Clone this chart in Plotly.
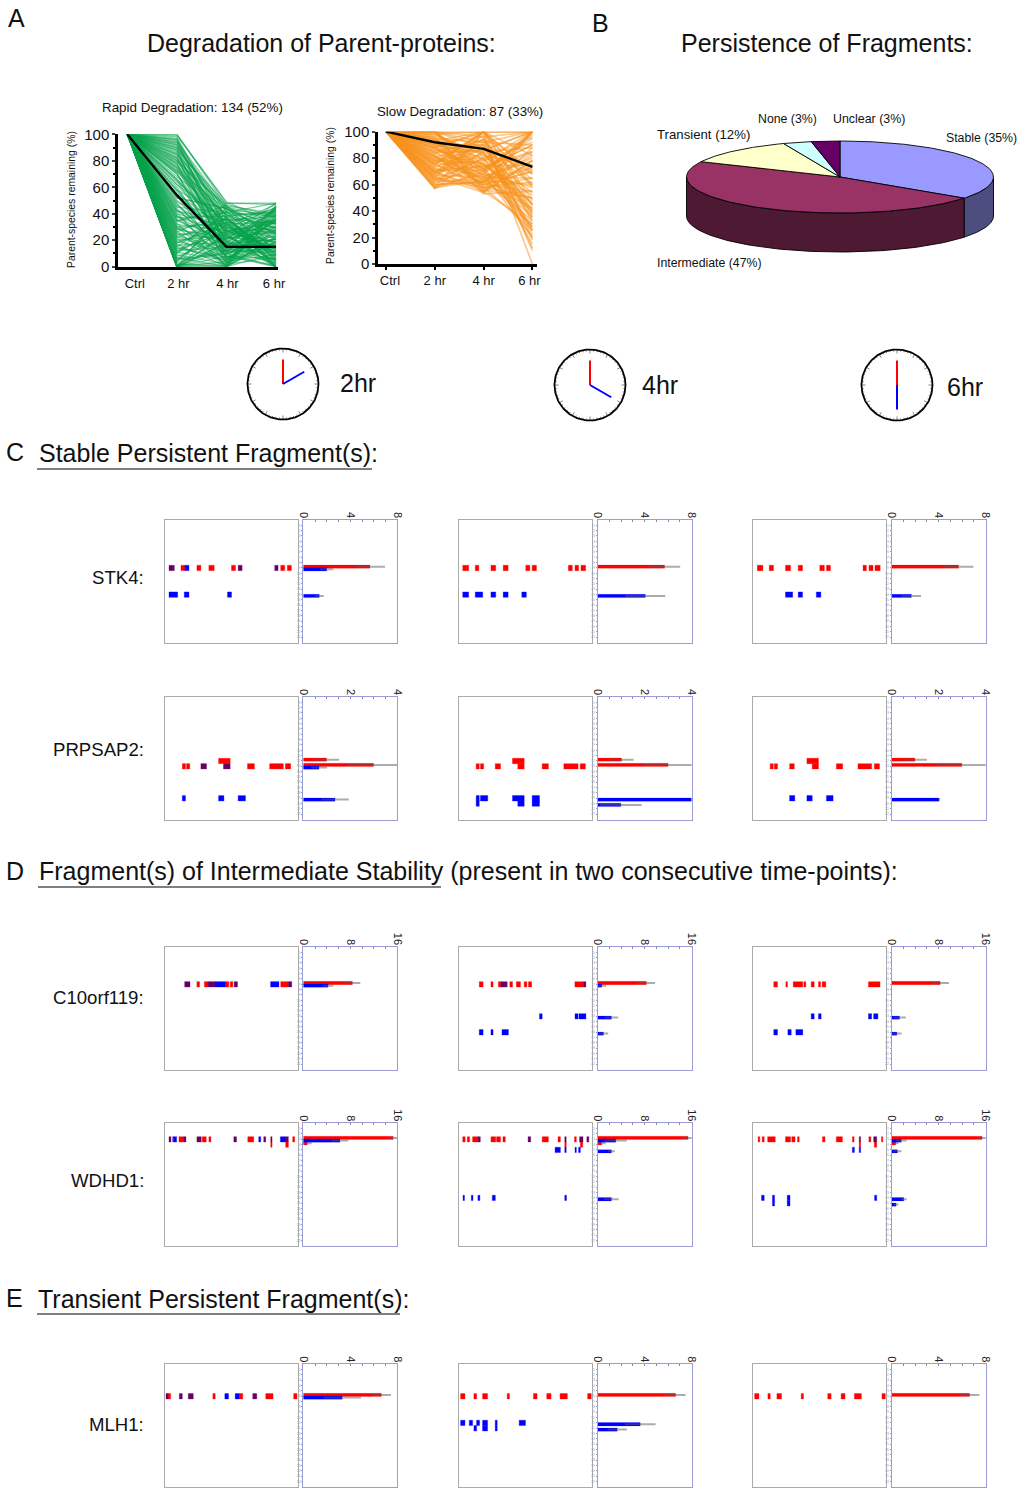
import numpy as np
import plotly.graph_objects as go

W, H = 1024, 1494

# ---------- A: parent-protein time courses ----------
TIMES = [0, 1, 2, 3]
TIME_LABELS = ["Ctrl", "2 hr", "4 hr", "6 hr"]
RAPID_2H = [100,100,98,96,95,94,93,92,91,90,89,88,87,86,85,84,83,82,81,80,79,78,77,76,75,74,73,72,71,70,68,66,65,64,62,60,58,57,55,54,52,50,49,47,46,45,44,43,42,41,40,39,38,37,36,35,34,33,32,31,30,29,28,27,26,25,24,23,22,21,20,19,18,17,16,15,14,13,12,11,10,9,8,7,6,5,4,3,2,1,0,0,0,0,0,0,0,0,0,0,
            99,97,96,94,92,90,88,85,82,80,78,75,72,70,66,62,58,52,48,42,38,35,30,28,25,22,18,15,12,10,6,4,2,0]
RAPID_4H = [48,46,30,12,44,41,25,35,38,22,5,47,33,18,42,27,9,36,15,29,45,20,7,39,24,13,43,31,3,17,40,26,10,34,21,6,37,16,28,2,44,19,32,11,23,41,8,14,35,0,30,4,25,38,12,20,46,1,27,9,33,17,22,0,42,6,29,14,36,3,24,11,31,0,19,40,7,26,15,5,34,2,21,0,28,10,37,13,0,23,18,4,45,8,16,0,32,1,25,12,
            49,28,15,37,24,43,6,31,19,46,11,26,39,3,22,34,14,44,8,29,17,41,1,36,21,12,33,5,27,48,10,38,2,18]
RAPID_6H = [47,40,22,35,15,48,30,8,42,26,12,38,44,20,5,33,28,10,45,18,37,2,25,41,0,16,32,7,46,21,13,36,0,27,43,19,9,31,4,39,24,0,34,14,48,29,6,17,38,23,11,41,0,26,3,35,20,44,15,30,0,8,37,22,12,46,28,5,33,18,0,40,25,10,36,1,21,43,16,31,0,7,27,39,13,24,0,34,19,4,42,9,29,0,17,45,2,23,35,11,
            32,18,44,6,27,39,14,47,23,3,36,11,29,42,19,8,34,25,1,45,16,38,28,9,43,21,5,33,13,48,26,0,37,12]
RAPID_MEAN = [100, 54, 15, 15]
SLOW_2H = [100,100,100,100,98,97,96,95,94,93,92,91,90,89,88,87,86,85,84,83,82,81,80,79,78,77,76,75,74,73,72,71,70,69,68,67,66,65,64,63,62,61,60,59,58,57,57,100,100,95,90,85,80,75,70,65,88,78,68,92,
           100,100,100,99,96,93,90,87,84,81,78,75,72,69,66,63,60,58,100,100,98,94,88,82,76,70,64]
SLOW_4H = [100,88,70,55,100,84,62,92,74,53,96,80,66,58,100,72,90,60,86,76,54,68,94,82,64,100,56,78,70,88,62,74,92,58,84,66,98,60,80,72,64,76,62,68,63,86,70,100,75,60,90,85,65,100,55,95,70,80,100,72,
           100,66,92,78,58,100,84,70,94,60,76,100,68,88,54,80,62,100,96,72,82,56,100,64,90,74,58]
SLOW_6H = [100,60,85,30,100,45,72,90,20,55,100,35,80,65,48,95,25,70,100,40,88,58,10,75,33,100,50,92,28,68,42,85,100,62,38,78,0,55,96,30,73,45,82,20,60,100,35,70,52,100,25,88,65,44,78,40,100,15,58,90,
           100,28,64,100,50,82,36,98,12,70,42,60,100,22,78,46,100,68,32,90,54,100,18,84,38,75,26]
SLOW_MEAN = [100, 92, 87, 73.5]

# ---------- B: fragment persistence ----------
PIE_LABELS = ["Stable (35%)", "Intermediate (47%)", "Transient (12%)", "None (3%)", "Unclear (3%)"]
PIE_SHARES = [35, 47, 12, 3, 3]

# ---------- clocks ----------
CLOCK_HOURS = [2, 4, 6]

# ---------- C-E: peptographs. map rows are (gel slice, start %, end %), bar rows are (gel slice, value, error) ----------
STK4_2_RED = [(9,12,15),(9,24,27),(9,33,37),(9,50,53),(9,87,90),(9,92,95)]
STK4_2_PUR = [(9,3,7),(9,55,58),(9,82.5,85)]
STK4_2_BLU = [(9,15,18),(14,3,9.5),(14,14.5,18),(14,47,50)]
STK4_2_BR = [(9,5.67,1.2)]
STK4_2_BB = [(9,1.99,0.5),(14,1.36,0.3)]
STK4_4_RED = [(9,2.6,7),(9,12,14.7),(9,23.8,27.4),(9,33,36.7),(9,50,53),(9,54.8,58),(9,82,85),(9,87,89.7),(9,91.5,95)]
STK4_4_BLU = [(14,2.6,7),(14,12,17.6),(14,23.8,27.4),(14,33,36.7),(14,47,50.4)]
STK4_4_BR = [(9,5.7,1.24)]
STK4_4_BB = [(14,4.06,1.62)]
STK4_6_RED = [(9,3,7.2),(9,12,15.2),(9,24.2,28),(9,33.8,37),(9,50,53.4),(9,55,58),(9,82.5,85),(9,87,90),(9,91.5,95.4)]
STK4_6_BLU = [(14,24.2,29.6),(14,33.8,37),(14,47.4,50.8)]
STK4_6_BR = [(9,5.7,1.18)]
STK4_6_BB = [(14,1.68,0.74)]

PRP_2_RED = [(12,40.3,49),(13,13,15.4),(13,16.2,18.6),(13,44,44.3),(13,62,67.2),(13,78.7,89),(13,90.5,94.5)]
PRP_2_PUR = [(13,27,31.2),(13,44.3,49)]
PRP_2_BLU = [(19,13,15.4),(19,40.3,44.3),(19,55,60.5)]
PRP_2_BR = [(12,0.99,0.49),(13,2.99,1.05)]
PRP_2_BB = [(13,0.67,0.3),(19,1.35,0.54)]
PRP_4_RED = [(12,40,48.8),(13,12.7,15),(13,15.9,18.3),(13,27,31),(13,44,48.8),(13,62.3,67),(13,78.6,89.3),(13,90.9,94.8)]
PRP_4_BLU = [(19,12.7,15),(19,15.9,21.4),(19,40,48.8),(19,54.8,60.3),(20,12.7,15),(20,44,48.8),(20,54.8,60.3)]
PRP_4_BR = [(12,1.02,0.47),(13,3.0,1.06)]
PRP_4_BB = [(19,4.0,0),(20,0.99,0.84)]
PRP_6_RED = [(12,40.3,49),(13,12.7,15),(13,15.8,18.2),(13,27.3,30.8),(13,44.3,49),(13,62.5,67.2),(13,78.7,89),(13,91,94.9)]
PRP_6_BLU = [(19,27.3,31.2),(19,40.3,44.3),(19,55,60)]
PRP_6_BR = [(12,0.99,0.47),(13,2.99,1.03)]
PRP_6_BB = [(19,2.02,0)]

C10_2_RED = [(7,24,26),(7,29.6,32.4),(7,45.5,48),(7,49,51),(7,87,92.8)]
C10_2_PUR = [(7,14.8,18.8),(7,32.4,37.5),(7,52,54.5),(7,92.8,95.3)]
C10_2_BLU = [(7,37.5,45.5),(7,79.4,85.7)]
C10_2_BR = [(7,8.36,1.17)]
C10_2_BB = [(7,4.22,0.72)]
C10_4_RED = [(7,15,17.9),(7,23.8,25.4),(7,29.4,31.3),(7,38,40),(7,42.9,46),(7,48.8,50.8),(7,52,54.4),(7,86.9,93.3)]
C10_4_PUR = [(7,31.3,36),(7,93.3,95.2)]
C10_4_BLU = [(13,60.3,62.3),(13,87,89.3),(13,90,95.2),(16,15,17.9),(16,23.8,25.4),(16,32.1,36.9)]
C10_4_BR = [(7,8.3,1.3)]
C10_4_BB = [(7,0.72,0.55),(13,2.35,0.99),(16,1.0,0.63)]
C10_6_RED = [(7,15.4,18.2),(7,24.5,25.7),(7,30,37.2),(7,38,39.5),(7,43.5,45.8),(7,49,50.6),(7,51.8,54.5),(7,86.6,95.3)]
C10_6_BLU = [(13,43.5,45.8),(13,49,51),(13,86.6,89),(13,90.5,93.7),(16,15.4,18.2),(16,26,28.5),(16,32,37.2)]
C10_6_BR = [(7,8.27,1.33)]
C10_6_BB = [(13,1.35,0.9),(16,0.9,0.63)]

WD_2_RED = [(3,10.5,14.25),(3,28,31),(3,33,34.5),(3,62.25,66.75),(3,96,97.5),(4,79.5,80.5),(4,90.75,92.75)]
WD_2_PUR = [(3,3,4.5),(3,5.75,6.5),(3,14.25,15.75),(3,24,27.25),(3,51.75,53.75),(3,74.25,75.75),(3,79.5,80.5),(3,90.25,92.75)]
WD_2_BLU = [(3,6.5,8.75),(3,70.5,72),(3,86.75,90.25)]
WD_2_BR = [(3,15.3,0.9),(4,0.68,0.57)]
WD_2_BB = [(3,6.24,1.26)]
WD_4_RED = [(3,2.6,4.4),(3,6,7.75),(3,10,14.2),(3,23.8,27.4),(3,28,31),(3,32.8,34.6),(3,62.3,67),(3,74.2,76),(3,86.6,88),(4,79.3,80.4),(4,91,92.8)]
WD_4_PUR = [(3,14.2,15.8),(3,51.7,53.7),(3,79.3,80.4),(3,90.4,93),(3,95.9,97.4)]
WD_4_BLU = [(5,72,76),(5,79.3,80.4),(5,87,88),(5,89.7,91),(14,2.8,3.9),(14,9,10.3),(14,14,15.5),(14,24.8,27.1),(14,79.3,80.6)]
WD_4_BR = [(3,15.4,0.8),(4,0.7,0.5)]
WD_4_BB = [(3,3.1,1.7),(5,2.35,0.41),(14,2.35,1.05)]
WD_6_RED = [(3,3.6,4.9),(3,6.7,8.2),(3,10.8,16.5),(3,24.2,28),(3,28.9,31.4),(3,33.2,34.5),(3,52,53.9),(3,62.4,67),(3,74.5,75.8),(3,86.9,88.4),(3,96.4,97.4),(4,79.6,80.7),(4,91,92.8)]
WD_6_PUR = [(3,79.6,80.7),(3,90.5,92.8)]
WD_6_BLU = [(5,74.5,76),(5,79.6,80.7),(14,6.2,8.2),(14,14.4,16),(14,25.5,27.6),(14,91.2,92.8),(15,14.4,16),(15,25.5,27.6)]
WD_6_BR = [(3,15.4,0.6),(4,0.7,0.3)]
WD_6_BB = [(3,1.65,0.75),(5,1.0,0.5),(14,2.07,0.33),(15,0.77,0.23)]

MLH_2_RED = [(6,2.25,4.25),(6,36,37.75),(6,55.75,58.5),(6,75.75,81.25),(6,96.75,99.25)]
MLH_2_PUR = [(6,0.75,2.25),(6,10.75,13),(6,17.5,21.25),(6,66,69)]
MLH_2_BLU = [(6,45,47.75),(6,52.75,55.75)]
MLH_2_BR = [(6,6.64,0.74)]
MLH_2_BB = [(6,3.31,1.51)]
MLH_4_RED = [(6,1,4.25),(6,11,13),(6,17.5,21.25),(6,36,37.75),(6,55.75,58.5),(6,65.75,69),(6,75.75,81.25),(6,96.5,99.25)]
MLH_4_BLU = [(11,1,4.25),(11,7.5,10),(11,13,15.25),(11,17.5,21.25),(11,27,28.5),(11,45,49.75),(12,11,13),(12,17.5,21.25),(12,27,28.5)]
MLH_4_BR = [(6,6.64,0.76)]
MLH_4_BB = [(11,3.63,1.22),(12,1.67,0.74)]
MLH_6_RED = [(6,1,4.25),(6,11,12.75),(6,17.75,21.25),(6,36,37.75),(6,56,58.5),(6,66,69),(6,76,81.25),(6,96.75,99.25)]
MLH_6_BR = [(6,6.64,0.74)]

GENES = ["STK4:", "PRPSAP2:", "C10orf119:", "WDHD1:", "MLH1:"]
BAR_MAX = [8, 4, 16, 16, 8]
MAPS = [
    [(STK4_2_RED, STK4_2_PUR, STK4_2_BLU, STK4_2_BR, STK4_2_BB), (STK4_4_RED, [], STK4_4_BLU, STK4_4_BR, STK4_4_BB), (STK4_6_RED, [], STK4_6_BLU, STK4_6_BR, STK4_6_BB)],
    [(PRP_2_RED, PRP_2_PUR, PRP_2_BLU, PRP_2_BR, PRP_2_BB), (PRP_4_RED, [], PRP_4_BLU, PRP_4_BR, PRP_4_BB), (PRP_6_RED, [], PRP_6_BLU, PRP_6_BR, PRP_6_BB)],
    [(C10_2_RED, C10_2_PUR, C10_2_BLU, C10_2_BR, C10_2_BB), (C10_4_RED, C10_4_PUR, C10_4_BLU, C10_4_BR, C10_4_BB), (C10_6_RED, [], C10_6_BLU, C10_6_BR, C10_6_BB)],
    [(WD_2_RED, WD_2_PUR, WD_2_BLU, WD_2_BR, WD_2_BB), (WD_4_RED, WD_4_PUR, WD_4_BLU, WD_4_BR, WD_4_BB), (WD_6_RED, WD_6_PUR, WD_6_BLU, WD_6_BR, WD_6_BB)],
    [(MLH_2_RED, MLH_2_PUR, MLH_2_BLU, MLH_2_BR, MLH_2_BB), (MLH_4_RED, [], MLH_4_BLU, MLH_4_BR, MLH_4_BB), (MLH_6_RED, [], [], MLH_6_BR, [])],
]

FONT = "Liberation Sans"
fig = go.Figure()
layout = {}
ann = []
shapes = []


def dx(a, b):
    return [a / W, b / W]


def dy(top, bottom):
    return [1 - bottom / H, 1 - top / H]


def text(x, y, s, size, anchor="center", angle=0, color="#111111"):
    shift = {"left": -2, "right": 2, "center": 0}[anchor]
    ann.append(dict(x=x, y=y, xref="x", yref="y", text=s, showarrow=False, xanchor=anchor, yanchor="middle", xshift=shift,
                    textangle=angle, font=dict(family=FONT, size=size, color=color)))


# overlay axes in page pixels
layout["xaxis"] = dict(domain=[0, 1], range=[0, W], visible=False, fixedrange=True)
layout["yaxis"] = dict(domain=[0, 1], range=[H, 0], visible=False, fixedrange=True)

axis_id = 2


def add_course(box, xr, rows, mean, color, opacity, lw, xlabels_at, tick_on, title, title_size, title_xy, ylab_xy):
    global axis_id
    i = axis_id
    axis_id += 1
    xn, yn = f"xaxis{i}", f"yaxis{i}"
    xminor = dict(tickvals=TIMES, ticks="outside" if tick_on else "", ticklen=3, tickwidth=2, tickcolor="#000")
    layout[xn] = dict(domain=dx(box[0], box[1]), range=xr, anchor=f"y{i}", showgrid=False, zeroline=False,
                      tickvals=xlabels_at, ticktext=TIME_LABELS, ticks="", ticklen=4, minor=xminor, ticklabelstandoff=3,
                      showline=True, linecolor="#000", linewidth=2.5, tickfont=dict(family=FONT, size=13, color="#111"))
    layout[yn] = dict(domain=dy(box[2], box[3]), range=[0, 100], anchor=f"x{i}", showgrid=False, zeroline=False,
                      tickvals=list(range(0, 101, 20)), ticks="outside", ticklen=3, tickwidth=2,
                      minor=dict(tickvals=list(range(10, 100, 20)), ticks="outside", ticklen=2, tickwidth=1.5, tickcolor="#000"),
                      showline=True, linecolor="#000", linewidth=2.5, tickfont=dict(family=FONT, size=15, color="#111"))
    for a, b, c in zip(*rows):
        fig.add_trace(go.Scatter(x=TIMES, y=[100, a, b, c], mode="lines", xaxis=f"x{i}", yaxis=f"y{i}",
                                 line=dict(color=color, width=lw), opacity=opacity, cliponaxis=False,
                                 showlegend=False, hoverinfo="skip"))
    fig.add_trace(go.Scatter(x=TIMES, y=mean, mode="lines", xaxis=f"x{i}", yaxis=f"y{i}", cliponaxis=False,
                             line=dict(color="#000", width=2.4), showlegend=False, hoverinfo="skip"))
    text(title_xy[0], title_xy[1], title, title_size)
    text(ylab_xy[0], ylab_xy[1], "Parent-species remaining (%)", 10.4, angle=-90)


add_course((118, 278, 134.3, 266.7), [-0.188, 3.04], (RAPID_2H, RAPID_4H, RAPID_6H), RAPID_MEAN, "#07a14c", 0.5, 1.3,
           [0.15, 1.03, 2.02, 2.96], False, "Rapid Degradation: 134 (52%)", 13.4, (192, 107), (71, 200))
add_course((378, 536.7, 131.7, 264), [-0.164, 3.088], (SLOW_2H, SLOW_4H, SLOW_6H), SLOW_MEAN, "#f7921e", 0.5, 1.7,
           [0.08, 1, 2, 2.94], True, "Slow Degradation: 87 (33%)", 13.3, (459.5, 111), (330, 196))

# ---------- 3D pie from the shares ----------
PCX, PCY, PRX, PRY, DEPTH = 840, 177, 153.5, 36, 39
TOP_COL = ["#9999ff", "#993366", "#ffffcc", "#ccffff", "#660066"]
SIDE_COL = ["#4d4d80", "#4d1933", "#808066", "#668080", "#330033"]
edges = np.cumsum([0] + PIE_SHARES) / sum(PIE_SHARES) * 2 * np.pi


def ell(t, dy_=0):
    return PCX + PRX * np.sin(t), PCY - PRY * np.cos(t) + dy_


def poly(xs, ys, col):
    fig.add_trace(go.Scatter(x=xs, y=ys, mode="lines", fill="toself", fillcolor=col, xaxis="x", yaxis="y",
                             line=dict(color="#000", width=0.9), showlegend=False, hoverinfo="skip"))


for k in range(len(PIE_SHARES)):
    a, b = max(edges[k], np.pi / 2), min(edges[k + 1], 1.5 * np.pi)
    if a < b:
        t = np.linspace(a, b, 80)
        x1, y1 = ell(t)
        x2, y2 = ell(t[::-1], DEPTH)
        poly(np.r_[x1, x2, x1[0]], np.r_[y1, y2, y1[0]], SIDE_COL[k])
for k in range(len(PIE_SHARES)):
    t = np.linspace(edges[k], edges[k + 1], 120)
    x1, y1 = ell(t)
    poly(np.r_[PCX, x1, PCX], np.r_[PCY, y1, PCY], TOP_COL[k])
PIE_TEXT_POS = [(981, 138), (709, 263), (703, 134), (787, 119), (869, 119)]
PIE_TEXT_SIZE = [12.3, 12.3, 13.2, 12.3, 12.4]
for s, (x, y), sz in zip(PIE_LABELS, PIE_TEXT_POS, PIE_TEXT_SIZE):
    text(x, y, s, sz)

# ---------- clocks ----------
CLOCK_POS = [(283, 384), (590, 385), (897, 385)]
CLOCK_LAB = [(340, 383), (642, 385), (947, 387)]
for hr, (cx, cy), (lx, ly) in zip(CLOCK_HOURS, CLOCK_POS, CLOCK_LAB):
    th = np.linspace(0, 2 * np.pi, 181)
    fig.add_trace(go.Scatter(x=cx + 35.5 * np.cos(th), y=cy + 35.5 * np.sin(th), mode="lines", xaxis="x", yaxis="y",
                             line=dict(color="#000", width=1.8), showlegend=False, hoverinfo="skip"))
    tx, ty = [], []
    for m in range(60):
        a = m * np.pi / 30
        r = 31.5 if m % 5 == 0 else 33.5
        tx += [cx + r * np.sin(a), cx + 35 * np.sin(a), None]
        ty += [cy - r * np.cos(a), cy - 35 * np.cos(a), None]
    fig.add_trace(go.Scatter(x=tx, y=ty, mode="lines", xaxis="x", yaxis="y", line=dict(color="#333", width=0.6),
                             showlegend=False, hoverinfo="skip"))
    fig.add_trace(go.Scatter(x=[cx, cx], y=[cy, cy - 24.5], mode="lines", xaxis="x", yaxis="y",
                             line=dict(color="#ff0000", width=2), showlegend=False, hoverinfo="skip"))
    a = hr * np.pi / 6
    fig.add_trace(go.Scatter(x=[cx, cx + 24.5 * np.sin(a)], y=[cy, cy - 24.5 * np.cos(a)], mode="lines", xaxis="x", yaxis="y",
                             line=dict(color="#0000ff", width=2), showlegend=False, hoverinfo="skip"))
    text(lx, ly, f"{hr}hr", 25, anchor="left")

# ---------- peptographs ----------
ROW_TOPS = [520, 697, 947, 1123.3, 1364.3]
GENE_Y = [577, 749, 997, 1180, 1424]
COL_X = [165, 459.3, 753.3]
PANEL_H = 123
ROW_PX = 5.33
YMAX = PANEL_H / ROW_PX
HALO = {"#ff0000": "rgba(255,0,0,0.35)", "#0000ff": "rgba(0,0,255,0.35)", "#660066": "rgba(102,0,102,0.35)"}


def add_map_trace(rows, col, i):
    if rows:
        fig.add_trace(go.Bar(orientation="h", y=[r[0] for r in rows], base=[r[1] for r in rows],
                             x=[r[2] - r[1] for r in rows], width=1.0, marker=dict(color=col, line=dict(width=1, color=HALO[col])),
                             xaxis=f"x{i}", yaxis=f"y{i}", showlegend=False, hoverinfo="skip"))


def add_bar_trace(rows, col, off, j, bmax):
    if rows:
        fig.add_trace(go.Bar(orientation="h", y=[r[0] + off for r in rows], x=[r[1] for r in rows], width=0.62,
                             marker=dict(color=col, line=dict(width=0.5, color=HALO[col])),
                             error_x=dict(type="data", array=[r[2] for r in rows], color="rgba(90,90,90,0.5)", thickness=2, width=1),
                             xaxis=f"x{j}", yaxis=f"y{j}", showlegend=False, hoverinfo="skip"))


for g, (top, gene, gy, bmax) in enumerate(zip(ROW_TOPS, GENES, GENE_Y, BAR_MAX)):
    text(144, gy, gene, 18.6, anchor="right")
    for c, x0 in enumerate(COL_X):
        red, pur, blu, br, bb = MAPS[g][c]
        i = axis_id
        j = axis_id + 1
        axis_id += 2
        layout[f"xaxis{i}"] = dict(domain=dx(x0, x0 + 133), range=[0, 100], anchor=f"y{i}", showgrid=False, zeroline=False,
                                   showticklabels=False, ticks="", showline=True, mirror=True, linecolor="#aaaaaa", linewidth=1.2)
        layout[f"yaxis{i}"] = dict(domain=dy(top, top + PANEL_H), range=[YMAX, 0], anchor=f"x{i}", showgrid=False, zeroline=False,
                                   showticklabels=False, ticks="", showline=True, mirror=True, linecolor="#aaaaaa", linewidth=1.2)
        add_map_trace(red, "#ff0000", i)
        add_map_trace(blu, "#0000ff", i)
        add_map_trace(pur, "#660066", i)

        xb = x0 + 138.3
        layout[f"xaxis{j}"] = dict(domain=dx(xb, xb + 94), range=[0, bmax], anchor=f"y{j}", side="top", showgrid=False, zeroline=False,
                                   tickvals=[0, bmax / 2, bmax], ticktext=[str(0), str(bmax // 2), str(bmax)], tickangle=90,
                                   ticks="inside", ticklen=2, tickwidth=0.6, tickcolor="#8888bb", ticklabelstandoff=-3,
                                   minor=dict(tickvals=[bmax * m / 8 for m in range(1, 8)], ticks="inside", ticklen=1.5, tickwidth=0.6, tickcolor="#8888bb"),
                                   tickfont=dict(family=FONT, size=11, color="#222"),
                                   showline=True, mirror=True, linecolor="#9c9cd4", linewidth=1.1)
        layout[f"yaxis{j}"] = dict(domain=dy(top, top + PANEL_H), range=[YMAX, 0], anchor=f"x{j}", showgrid=False, zeroline=False,
                                   tickvals=list(range(1, 23)), ticktext=[str(v) for v in range(1, 23)],
                                   ticks="outside", ticklen=1, tickwidth=0.6, tickcolor="#9999cc",
                                   tickfont=dict(family=FONT, size=3.4, color="#9999cc"),
                                   showline=True, mirror=True, linecolor="#9c9cd4", linewidth=1.1)
        add_bar_trace(br, "#ff0000", -0.25, j, bmax)
        add_bar_trace(bb, "#0000ff", 0.25, j, bmax)

# ---------- headings ----------
text(8, 18, "A", 25, anchor="left")
text(321.5, 43, "Degradation of Parent-proteins:", 25)
text(592, 23, "B", 25, anchor="left")
text(827, 43, "Persistence of Fragments:", 25)
text(6, 452, "C", 25, anchor="left")
text(39, 453, "Stable Persistent Fragment(s):", 25, anchor="left")
text(6, 871, "D", 25, anchor="left")
text(39, 871, "Fragment(s) of Intermediate Stability (present in two consecutive time-points):", 25, anchor="left")
text(6, 1298, "E", 25, anchor="left")
text(38, 1299, "Transient Persistent Fragment(s):", 25, anchor="left")
for x1, x2, y in [(37, 372, 469), (38, 441, 887), (37, 400, 1314)]:
    shapes.append(dict(type="line", xref="x", yref="y", x0=x1, x1=x2, y0=y, y1=y, line=dict(color="#000", width=1.2)))

fig.update_layout(**layout)
fig.update_layout(template="none", width=W, height=H, margin=dict(l=0, r=0, t=0, b=0), autosize=False, paper_bgcolor="#fff", plot_bgcolor="rgba(0,0,0,0)",
                  barmode="overlay", showlegend=False, annotations=ann, shapes=shapes, font=dict(family=FONT))
fig.write_html("out.html", config={"displayModeBar": False}, post_script="document.body.style.margin='0';document.documentElement.style.overflow='hidden';")
